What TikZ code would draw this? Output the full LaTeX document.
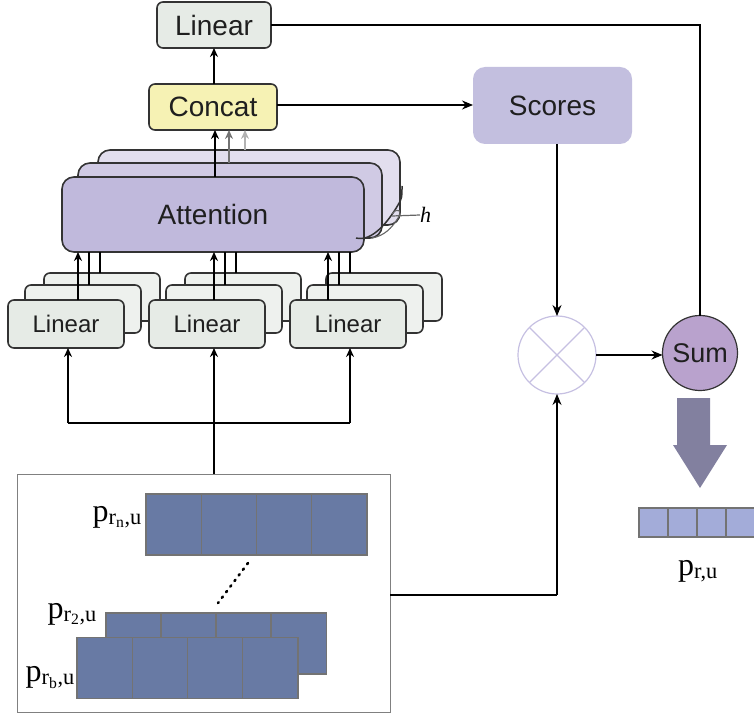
\documentclass[tikz,border=0pt]{standalone}
\usepackage{fontspec}
\setmainfont{Liberation Sans}
\newfontfamily\serifp{Liberation Serif}
\usetikzlibrary{arrows.meta,calc}
\definecolor{linfill}{HTML}{E6EBE6}
\definecolor{linfillb}{HTML}{EEF1EE}
\definecolor{concatfill}{HTML}{F6F2B4}
\definecolor{attfill}{HTML}{C0B9DC}
\definecolor{attfillb}{HTML}{D0CAE4}
\definecolor{attfillc}{HTML}{E2DEEE}
\definecolor{scorefill}{HTML}{C3BFDF}
\definecolor{sumfill}{HTML}{B9A2CD}
\definecolor{cellfill}{HTML}{687AA4}
\definecolor{outfill}{HTML}{A3ACD9}
\definecolor{bigarrow}{HTML}{82809F}
\definecolor{edge}{HTML}{333333}
\definecolor{mulcol}{HTML}{C6C0E2}
\tikzset{
  box/.style={draw=edge, line width=1.6pt, rounded corners=6pt, inner sep=0pt, outer sep=0pt, text=black!88},
  linbox/.style={box, fill=linfill, minimum width=116pt, minimum height=48pt, font=\fontsize{24}{26}\selectfont},
  linback/.style={box, fill=linfillb, minimum width=116pt, minimum height=48pt},
  attbox/.style={box, rounded corners=12pt, minimum width=302pt, minimum height=75pt},
  cell/.style={draw=black!55, line width=1.3pt, fill=cellfill, minimum height=61pt, minimum width=55.25pt, inner sep=0pt, outer sep=0pt},
  ocell/.style={draw=black!55, line width=1.2pt, fill=outfill, minimum height=29pt, minimum width=29pt, inner sep=0pt, outer sep=0pt},
  plab/.style={font=\serifp\fontsize{32}{34}\selectfont, inner sep=0pt},
  thinarr/.style={line width=1.1pt, -{Stealth[length=11pt,width=9pt]}},
  thickarr/.style={line width=2pt, -{Stealth[length=9pt,width=8pt]}},
  conn/.style={line width=1.1pt},
}
\begin{document}
\begin{tikzpicture}[x=1pt,y=-1pt]
\useasboundingbox (0,0) rectangle (754,719);
% top linear and concat
\node[linbox, minimum width=114pt, minimum height=46pt, font=\fontsize{28}{30}\selectfont] (toplin) at (214,25) {Linear};
\node[box, fill=concatfill, minimum width=128pt, minimum height=46pt, font=\fontsize{28}{30}\selectfont] (concat) at (213,107) {Concat};
% attention stack
\node[attbox, fill=attfillc] (attc) at (249,187.5) {};
\node[attbox, fill=attfillb, minimum width=304pt] (attb) at (230,200.5) {};
\node[attbox, fill=attfill, font=\fontsize{28}{30}\selectfont] (att) at (213,214.5) {Attention};
% h marker
\draw[line width=1.5pt, edge] (356,238) .. controls (372,242) and (388,222) .. (398,205) .. controls (402,198) .. (402,186);
\draw[line width=1.1pt, black!60] (372,238) .. controls (384,236) and (392,228) .. (398,218) .. controls (403,212) and (398,206) .. (392,214);
\coordinate (hstart) at (392,216);
\node[font=\serifp\itshape\fontsize{22}{24}\selectfont, inner sep=0pt, anchor=west] (hlab) at (420,215) {h};
\draw[line width=1.2pt, black!60] (hstart) -- (hlab.west);
% arrows attention -> concat
\draw[thickarr, black!30] (attc.north -| 245,0) -- (concat.south -| 245,0);
\draw[thickarr, black!55] (attb.north -| 229,0) -- (concat.south -| 229,0);
\draw[thickarr] (att.north -| 215,0) -- (concat.south -| 215,0);
\draw[thickarr] (concat.north -| 214,0) -- (toplin.south -| 214,0);
% linear stacks
\foreach \n/\cx in {1/66,2/207,3/348}{
  \node[linback] (lin\n c) at (\cx+36,297) {};
  \node[linback] (lin\n b) at (\cx+17,309) {};
}
\foreach \n/\cx in {1/66,2/207,3/348}{
  \node[linbox] (lin\n) at (\cx,324) {Linear};
}
% arrows linear -> attention
\foreach \n/\ax in {1/78,2/214,3/328}{
  \draw[line width=1.8pt] (lin\n c.north -| \ax+22,0) -- (att.south -| \ax+22,0);
  \draw[line width=1.8pt] (lin\n b.north -| \ax+11,0) -- (att.south -| \ax+11,0);
  \draw[thickarr] (lin\n.north -| \ax,0) -- (att.south -| \ax,0);
}
% input box
\node[draw=black!50, line width=1pt, minimum width=373pt, minimum height=238pt, inner sep=0pt, outer sep=0pt] (inbox) at (203.5,593) {};
\coordinate (j1) at (68,423);
\coordinate (j2) at (214,423);
\coordinate (j3) at (350,423);
\draw[line width=1.8pt] (j1) -- (j3);
\draw[line width=1.8pt] (inbox.north -| j2) -- (j2);
\draw[thickarr] (j1) -- (j1 |- lin1.south);
\draw[thickarr] (j2) -- (j2 |- lin2.south);
\draw[thickarr] (j3) -- (j3 |- lin3.south);
% vectors in box
\foreach \i in {0,1,2,3}{
  \node[cell] (ta\i) at (146+27.6+\i*55.25,524.5) {};
}
\foreach \i in {0,1,2,3}{
  \node[cell] (mb\i) at (106+27.6+\i*55,643.5) {};
}
\foreach \i in {0,1,2,3}{
  \node[cell] (bc\i) at (77+27.6+\i*55.25,668) {};
}
\draw[line width=2.6pt, dash pattern=on 1.5pt off 5.5pt, line cap=round] (248,563) -- (218,603);
\node[plab, anchor=base east] (l1) at (142,521) {p\textsubscript{r\textsubscript{n},u}};
\node[plab, anchor=base east] (l2) at (97,618) {p\textsubscript{r\textsubscript{2},u}};
\node[plab, anchor=base east] (l3) at (75,681) {p\textsubscript{r\textsubscript{b},u}};
% scores
\node[fill=scorefill, rounded corners=12pt, minimum width=159pt, minimum height=77pt, inner sep=0pt, outer sep=0pt, font=\fontsize{28}{30}\selectfont, text=black!88] (scores) at (552.5,105.5) {Scores};
\draw[thinarr] (concat.east |- 0,105) -- (scores.west |- 0,105);
% multiply
\node[circle, draw=mulcol, line width=1.2pt, fill=white, minimum size=78pt, inner sep=0pt, outer sep=0pt] (mul) at (557,355) {};
\draw[mulcol, line width=1.2pt] (mul.north west) -- (mul.south east);
\draw[mulcol, line width=1.2pt] (mul.north east) -- (mul.south west);
% sum
\node[circle, draw=edge, line width=1.2pt, fill=sumfill, minimum size=75pt, inner sep=0pt, outer sep=0pt, font=\fontsize{27}{29}\selectfont, text=black!88] (sum) at (700,353) {Sum};
\draw[thinarr] (scores.south -| mul.north) -- (mul.north);
\draw[thinarr] (mul.east) -- (sum.west |- mul.east);
\coordinate (tr) at (700,25);
\draw[conn] (toplin.east) -- (tr) -- (sum.north);
\coordinate (br) at (557,595);
\draw[conn] (inbox.east |- br) -- (br);
\draw[thinarr] (br) -- (mul.south);
% big arrow
\fill[bigarrow] (677,398) -- (710,398) -- (710,445) -- (727,445) -- (700,488) -- (673,445) -- (677,445) -- cycle;
% output vector
\foreach \i in {0,1,2,3}{
  \node[ocell] (o\i) at (653.5+\i*29,522.5) {};
}
\node[plab, anchor=base] (lout) at (698,575) {p\textsubscript{r,u}};
\end{tikzpicture}
\end{document}
